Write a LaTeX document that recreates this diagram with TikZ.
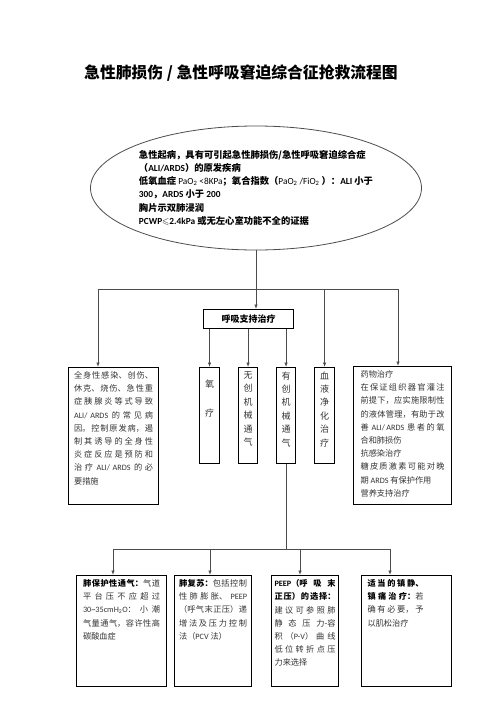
\documentclass[tikz,border=0pt]{standalone}
\usepackage{fontspec}
\usepackage{amssymb}
\setmainfont{Noto Sans CJK SC}
\newfontfamily\en{Carlito}
\XeTeXlinebreaklocale "zh"
\XeTeXlinebreakskip=0pt plus 1.5pt
\usetikzlibrary{shapes.geometric,arrows.meta}
\tikzset{>={Latex[length=4.5pt,width=3.5pt]}}
\tikzset{
  box/.style = {draw,line width=1.1pt,anchor=north west,inner ysep=4pt,text=black!80},
  stick/.style = {box,inner xsep=0pt},
  link/.style = {draw=black!70,line width=0.8pt}
}
\newcommand{\cell}[3]{\parbox[c][#2][t]{#1}{\fontsize{8.2}{13.2}\selectfont #3}}
\newcommand{\vcell}[2]{\parbox[c][88pt][t]{#1}{\centering\fontsize{9}{13.4}\selectfont #2}}
\newcommand{\head}[1]{{\color{black}\bfseries #1}}

\begin{document}
\begin{tikzpicture}[x=1pt,y=-1pt]
  \useasboundingbox (0,0) rectangle (496,702);
  \node[font=\bfseries\fontsize{15.8}{18}\selectfont] (title) at (241,73) {急性肺损伤 / 急性呼吸窘迫综合征抢救流程图};
  % onset of the disease
  \node[ellipse,draw=black!70,line width=0.8pt,inner sep=0pt,minimum width=328pt,minimum height=124pt,
        align=left,font=\bfseries\fontsize{9.3}{13.2}\selectfont] (onset) at (256,188)
    {急性起病，具有可引起急性肺损伤/急性呼吸窘迫综合症\\
     （{\en ALI/ARDS}）的原发疾病\\
     低氧血症 {\en\mdseries PaO\textsubscript{2} <8KPa}；氧合指数（{\en\mdseries PaO\textsubscript{2} /FiO\textsubscript{2}} ）：{\en ALI} 小于\\
     {\en 300}，{\en ARDS} 小于 {\en 200}\\
     胸片示双肺浸润\\
     {\en PCWP$\leqslant$2.4kPa} 或无左心室功能不全的证据};
  \node[box,inner sep=0pt,minimum width=90pt,minimum height=19pt,text=black,
        font=\bfseries\fontsize{9}{11}\selectfont] (support) at (203,309) {呼吸支持治疗};
  % middle row
  \node[box,inner xsep=5.5pt] (cause) at (68,367) {\cell{79pt}{129pt}{%
    全身性感染、创伤、\linebreak
    休克、烧伤、急性重\linebreak
    症胰腺炎等式导致\linebreak
    {\en ALI/ARDS} 的常见病\linebreak
    因。控制原发病，遏\linebreak
    制其诱导的全身性\linebreak
    炎症反应是预防和\linebreak
    治疗 {\en ALI/ARDS} 的必\linebreak
    要措施}};
  \node[stick] (oxygen) at (199,367) {\vcell{20pt}{\vspace*{8pt}氧\\[15.6pt]疗}};
  \node[stick] (noninv) at (238,367) {\vcell{19pt}{无\\创\\机\\械\\通\\气}};
  \node[stick] (invasive) at (276,367) {\vcell{19pt}{有\\创\\机\\械\\通\\气}};
  \node[stick] (blood) at (314,367) {\vcell{20pt}{血\\液\\净\\化\\治\\疗}};
  \node[box,inner xsep=7pt] (drug) at (353,366) {\cell{84pt}{130pt}{%
    药物治疗\\
    在保证组织器官灌注\linebreak
    前提下，应实施限制性\linebreak
    的液体管理，有助于改\linebreak
    善 {\en ALI/ARDS} 患者的氧\linebreak
    合和肺损伤\\
    抗感染治疗\\
    糖皮质激素可能对晚\linebreak
    期 {\en ARDS} 有保护作用\\
    营养支持治疗}};
  % bottom row
  \node[box,inner xsep=6.5pt] (lung) at (76,575) {\cell{77pt}{103pt}{%
    \head{肺保护性通气：}气道\linebreak
    平台压不应超过\linebreak
    {\en 30\textasciitilde35cmH\textsubscript{2}O}：小潮\linebreak
    气量通气，容许性高\linebreak
    碳酸血症}};
  \node[box,inner xsep=4.5pt] (recruit) at (174,575) {\cell{68pt}{103pt}{%
    \head{肺复苏：}包括控制\linebreak
    性肺膨胀、 {\en PEEP}\linebreak
    （呼气末正压）递\linebreak
    增法及压力控制\linebreak
    法（{\en PCV} 法）}};
  \node[box,inner xsep=3pt] (peep) at (271,575) {\cell{61pt}{103pt}{%
    \head{{\en PEEP}（呼吸末}\linebreak
    \head{正压）的选择：}\linebreak
    建议可参照肺\linebreak
    静态压力-容\linebreak
    积（{\en P-V}）曲线\linebreak
    低位转折点压\linebreak
    力来选择}};
  \node[box,inner xsep=6pt] (sedate) at (361,575) {\cell{78pt}{103pt}{\rightskip=22pt
    \head{适当的镇静、}\linebreak
    \head{镇痛治疗：}若\linebreak
    确有必要，予\linebreak
    以肌松治疗}};
  % connectors
  \draw[link,->] (onset.south) -- (onset.south |- support.north);
  \coordinate (busL) at (98,289);
  \coordinate (busR) at (398,289);
  \draw[link] (busL) -- (busR);
  \draw[link,->] (busL) -- (busL |- cause.north);
  \draw[link,->] (blood.north |- busL) -- (blood.north);
  \draw[link,->] (busR) -- (busR |- drug.north);
  \foreach \v in {oxygen,noninv,invasive}
    \draw[link,->] (\v.north |- support.south) -- (\v.north);
  \coordinate (busD) at (113,549);
  \coordinate (busE) at (390,549);
  \draw[link] (invasive.south) -- (invasive.south |- busD);
  \draw[link] (busD) -- (busE);
  \foreach \x/\b in {113/lung,210/recruit,300/peep,390/sedate} {
    \coordinate (to\b) at (\x,549);
    \draw[link,->] (to\b) -- (to\b |- \b.north);
  }
\end{tikzpicture}
\end{document}
